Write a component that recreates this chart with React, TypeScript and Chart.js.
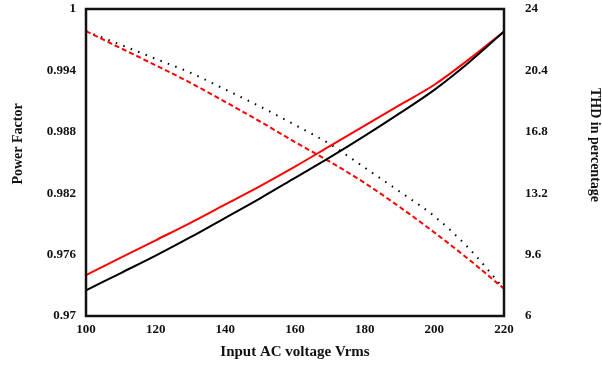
import { useEffect, useRef } from 'react';
import { Chart, registerables } from 'chart.js';

Chart.register(...registerables);

const voltages = [100, 110, 120, 130, 140, 150, 160, 170, 180, 190, 200, 210, 220];
const pfBlack = [0.9725, 0.9742, 0.9759, 0.9777, 0.9796, 0.9815, 0.9835, 0.9855, 0.9876, 0.9898, 0.9921, 0.9948, 0.9978];
const pfRed = [0.974, 0.9757, 0.9774, 0.9791, 0.9809, 0.9827, 0.9846, 0.9866, 0.9886, 0.9906, 0.9926, 0.9951, 0.9978];
const thdRed = [22.7, 21.7, 20.7, 19.67, 18.55, 17.4, 16.2, 15.05, 13.8, 12.4, 10.9, 9.3, 7.6];
const thdBlack = [22.7, 21.9, 21.08, 20.26, 19.28, 18.28, 17.2, 16.08, 14.7, 13.3, 11.85, 9.95, 7.6];

const xTicks = [100, 120, 140, 160, 180, 200, 220];
const pfTicks = [0.97, 0.976, 0.982, 0.988, 0.994, 1];
const thdTicks = [6, 9.6, 13.2, 16.8, 20.4, 24];

const xTitle = 'Input AC voltage Vrms';
const pfTitle = 'Power Factor';
const thdTitle = 'THD in percentage';

const FAMILY = "'Liberation Serif', 'Times New Roman', serif";

export default function App() {
  const ref = useRef<HTMLCanvasElement | null>(null);

  useEffect(() => {
    if (!ref.current) return;
    const pts = (ys: number[]) => voltages.map((v, i) => ({ x: v, y: ys[i] }));

    const framePlugin = {
      id: 'frameAndTitles',
      afterDraw(chart: any) {
        const { ctx, chartArea } = chart;
        ctx.save();
        ctx.strokeStyle = '#111';
        ctx.lineWidth = 2.5;
        ctx.strokeRect(chartArea.left, chartArea.top, chartArea.right - chartArea.left, chartArea.bottom - chartArea.top);
        ctx.fillStyle = '#111';
        ctx.font = `bold 14px ${FAMILY}`;
        ctx.textAlign = 'center';
        ctx.textBaseline = 'middle';
        ctx.save();
        ctx.translate(18, 144);
        ctx.rotate(-Math.PI / 2);
        ctx.fillText(pfTitle, 0, 0);
        ctx.restore();
        ctx.save();
        ctx.translate(595, 145);
        ctx.rotate(Math.PI / 2);
        ctx.fillText(thdTitle, 0, 0);
        ctx.restore();
        ctx.restore();
      },
    };

    const tickFont = { family: FAMILY, size: 13, weight: 'bold' as const };
    const zeroPad = (s: any) => { s.paddingTop = 0; s.paddingBottom = 0; s.paddingLeft = 0; s.paddingRight = 0; };

    const chart = new Chart(ref.current, {
      type: 'line',
      data: {
        datasets: [
          { label: 'PF black', data: pts(pfBlack), yAxisID: 'y', borderColor: '#000', borderWidth: 2, pointRadius: 0, cubicInterpolationMode: 'monotone' },
          { label: 'PF red', data: pts(pfRed), yAxisID: 'y', borderColor: '#ff0000', borderWidth: 2, pointRadius: 0, cubicInterpolationMode: 'monotone' },
          { label: 'THD red', data: pts(thdRed), yAxisID: 'y1', borderColor: '#ff0000', borderWidth: 2, borderDash: [5, 3], pointRadius: 0, cubicInterpolationMode: 'monotone' },
          { label: 'THD black', data: pts(thdBlack), yAxisID: 'y1', borderColor: '#000', borderWidth: 2, borderDash: [1.5, 6.5], pointRadius: 0, cubicInterpolationMode: 'monotone' },
        ],
      },
      options: {
        animation: false,
        responsive: true,
        maintainAspectRatio: false,
        layout: { padding: { top: 9, left: 0, right: 0, bottom: 0 } },
        plugins: { legend: { display: false }, tooltip: { enabled: false } },
        scales: {
          x: {
            type: 'linear',
            min: 100,
            max: 220,
            grid: { display: false, drawTicks: false },
            border: { display: false },
            afterBuildTicks: (s: any) => { s.ticks = xTicks.map((v) => ({ value: v })); },
            afterFit: (s: any) => { s.height = 55; zeroPad(s); },
            ticks: { color: '#111', font: tickFont, padding: 6, autoSkip: false, maxRotation: 0 },
            title: { display: true, text: xTitle, color: '#111', font: { family: FAMILY, size: 15, weight: 'bold' }, padding: { top: 0, bottom: 10 } },
          },
          y: {
            type: 'linear',
            position: 'left',
            min: 0.97,
            max: 1,
            grid: { display: false, drawTicks: false },
            border: { display: false },
            afterBuildTicks: (s: any) => { s.ticks = pfTicks.map((v) => ({ value: v })); },
            afterFit: (s: any) => { s.width = 86; zeroPad(s); },
            ticks: { color: '#111', font: tickFont, padding: 10, callback: (v: any) => String(Number(Number(v).toFixed(3))) },
          },
          y1: {
            type: 'linear',
            position: 'right',
            min: 6,
            max: 24,
            grid: { display: false, drawTicks: false },
            border: { display: false },
            afterBuildTicks: (s: any) => { s.ticks = thdTicks.map((v) => ({ value: v })); },
            afterFit: (s: any) => { s.width = 98; zeroPad(s); },
            ticks: { color: '#111', font: tickFont, padding: 21, callback: (v: any) => String(Number(Number(v).toFixed(1))) },
          },
        },
      },
      plugins: [framePlugin],
    });
    return () => chart.destroy();
  }, []);

  return (
    <div style={{ position: 'absolute', left: 0, top: 0, width: 602, height: 371, background: '#fff' }}>
      <canvas ref={ref} />
    </div>
  );
}
